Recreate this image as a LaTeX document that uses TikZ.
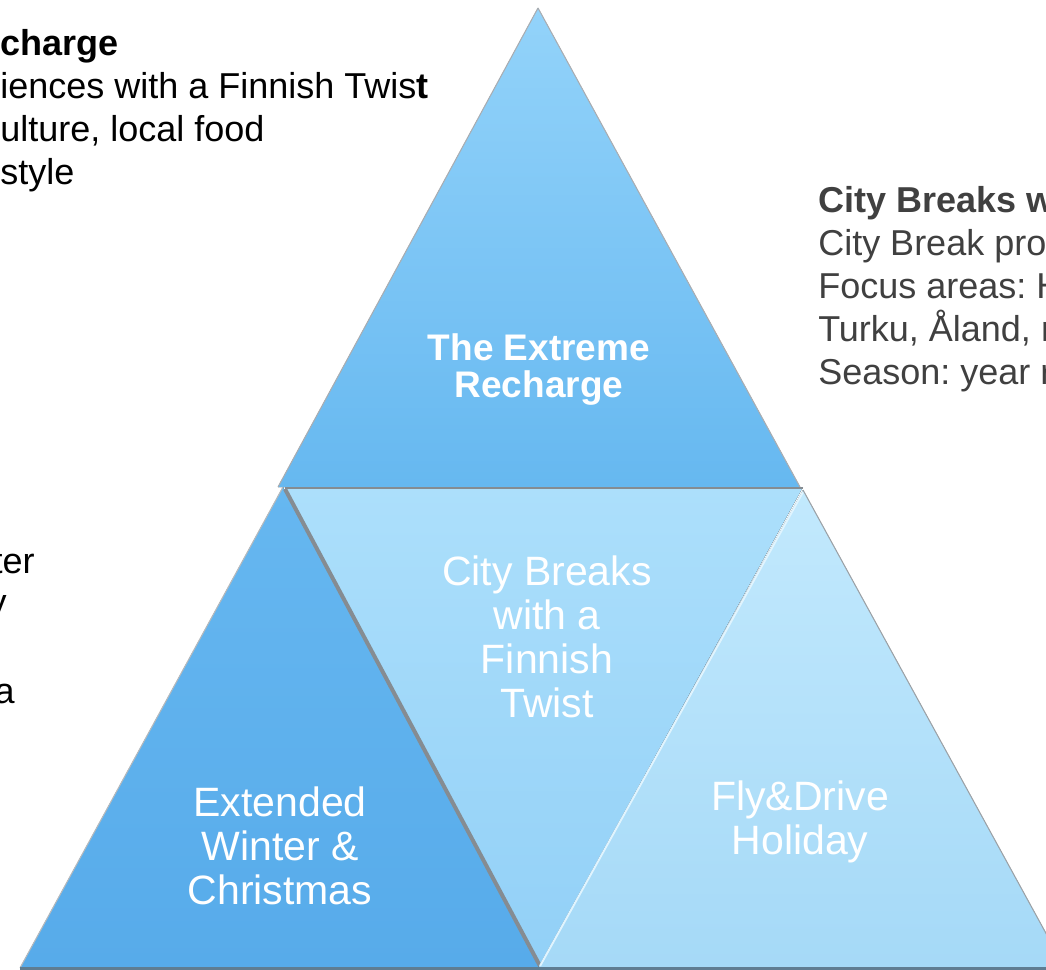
\documentclass[tikz,border=0pt]{standalone}
\usepackage{fontspec}
\setmainfont{Liberation Sans}
\usepackage{tikz}
\frenchspacing

\definecolor{peakTop}{HTML}{93D3FA}
\definecolor{peakBot}{HTML}{66B8F0}
\definecolor{winterTop}{HTML}{66B7F0}
\definecolor{winterBot}{HTML}{57ABEA}
\definecolor{cityTop}{HTML}{ACDFFB}
\definecolor{cityBot}{HTML}{92D0F7}
\definecolor{driveTop}{HTML}{C2E9FD}
\definecolor{driveBot}{HTML}{A5D9F7}
\definecolor{sideGrey}{HTML}{404040}
\definecolor{edgeGrey}{HTML}{858C92}
\definecolor{floorGrey}{HTML}{5F7D92}

\begin{document}
\begin{tikzpicture}[x=0.75pt, y=-0.75pt,
  sidetext/.style={inner sep=0, align=left, font=\fontsize{27}{32.25}\selectfont},
  tritext/.style={inner sep=0, align=center, text=white, font=\fontsize{30.75}{33}\selectfont}]
\useasboundingbox (0,0) rectangle (1046,970);
\clip (0,0) rectangle (1046,970);

% the four triangles
\fill[top color=peakTop, bottom color=peakBot] (538,8) -- (800,487) -- (278,487) -- cycle;
\draw[edgeGrey!70, line width=0.8] (538,8) -- (800,487) (538,8) -- (278,487);
\fill[top color=winterTop, bottom color=winterBot] (283,487) -- (545,968) -- (20,968) -- cycle;
\draw[edgeGrey!60, line width=0.8] (283,487) -- (20,968);
\fill[top color=cityTop, bottom color=cityBot] (285,487) -- (803,487) -- (540,966) -- cycle;
\draw[edgeGrey, line width=3] (285,489) -- (540,966);
\draw[edgeGrey, line width=2] (285,488) -- (803,488);
\fill[top color=driveTop, bottom color=driveBot] (803,490) -- (1065,968) -- (538,968) -- cycle;
\draw[white!50!driveTop, line width=1.5] (803,492) -- (540,966);
\draw[edgeGrey!80, line width=0.8] (803,490) -- (1065,968);
\draw[floorGrey, line width=3] (20,968.5) -- (1046,968.5);

% labels inside
\node[tritext, font=\bfseries\fontsize{27.75}{27.75}\selectfont] (recharge) at (539,370) {The Extreme\\Recharge};
\node[tritext] (city) at (547,637) {City Breaks\\with a\\Finnish\\Twist};
\node[tritext] (winter) at (280,846) {Extended\\Winter \&\\Christmas};
\node[tritext] (drive) at (800,822) {Fly\&Drive\\Holiday};

% side texts
\node[sidetext, anchor=north west] (rechargeText) at (0,29)
  {\textbf{charge}\\iences with a Finnish Twis\textbf{t}\\ulture, local food\\style};
\node[sidetext, anchor=north west, text=sideGrey] (cityText) at (818,186)
  {\textbf{City Breaks w}\\City Break pro\\Focus areas: H\\Turku, Åland, n\\Season: year r};
\node[sidetext, anchor=base east] (winterA) at (35,573) {ter};
\node[sidetext, anchor=base east] (winterB) at (7,614) {y};
\node[sidetext, anchor=base east] (winterC) at (15,703) {a};
\end{tikzpicture}
\end{document}
